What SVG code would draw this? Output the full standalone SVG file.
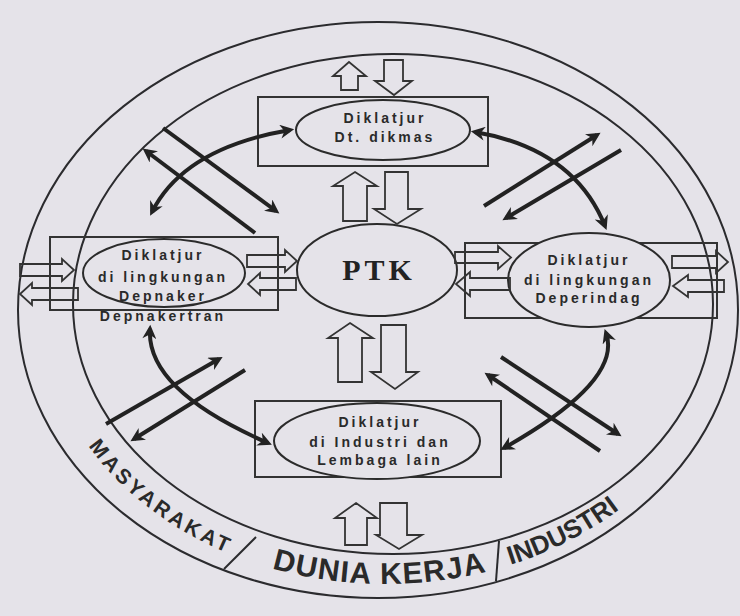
<svg xmlns="http://www.w3.org/2000/svg" width="740" height="616" viewBox="0 0 740 616">
<style>
.bg{fill:#e5e3e9}
.ring{fill:none;stroke:#2b2b2e;stroke-width:2}
.box{fill:none;stroke:#333;stroke-width:2}
.node{fill:#e5e3e9;stroke:#2b2b2b;stroke-width:2}
.hollow{fill:none;stroke:#333;stroke-width:1.8;stroke-linejoin:miter}
.flow{fill:none;stroke:#222;stroke-width:4}
.lbl{font-family:"Liberation Sans",Arial,sans-serif;font-weight:bold;font-size:14px;letter-spacing:3px;fill:#2a2a2a;text-anchor:middle}
.ptk{font-family:"Liberation Serif","Times New Roman",serif;font-weight:bold;font-size:30px;letter-spacing:4px;fill:#222;text-anchor:middle}
.band{font-family:"Liberation Sans",Arial,sans-serif;font-weight:bold;fill:#2a2a2a;text-anchor:middle}
</style>
<defs>
<marker id="ah" viewBox="0 0 10 10" refX="7" refY="5" markerWidth="16" markerHeight="14" markerUnits="userSpaceOnUse" orient="auto-start-reverse">
<path d="M0,0 L10,5 L0,10 L3,5 z" fill="#222"/>
</marker>
<path id="bandPath" d="M42,307 A343,277 0 0 0 728,307"/>
</defs>
<rect class="bg" x="0" y="0" width="740" height="616"/>

<g id="rings">
<ellipse class="ring" cx="378" cy="310" rx="360" ry="288"/>
<ellipse class="ring" cx="393" cy="304" rx="320" ry="250"/>
<line class="ring" x1="224" y1="569" x2="256" y2="537"/>
<line class="ring" x1="496" y1="581" x2="499" y2="541"/>
<text class="band" font-size="21"><textPath href="#bandPath" startOffset="237" textLength="176" lengthAdjust="spacing">MASYARAKAT</textPath></text>
<text class="band" font-size="30"><textPath href="#bandPath" startOffset="482" textLength="217" lengthAdjust="spacing">DUNIA KERJA</textPath></text>
<text class="band" font-size="26"><textPath href="#bandPath" startOffset="677">INDUSTRI</textPath></text>
</g>

<g id="n-dikmas">
<rect class="box" x="258" y="97" width="230" height="69"/>
<ellipse class="node" cx="383" cy="130" rx="87" ry="30"/>
<text class="lbl" x="385" y="123">Diklatjur</text>
<text class="lbl" x="385" y="142">Dt. dikmas</text>
</g>

<g id="n-depnaker">
<rect class="box" x="50" y="237" width="228" height="73"/>
<ellipse class="node" cx="164" cy="273" rx="81" ry="34"/>
<text class="lbl" x="163" y="260">Diklatjur</text>
<text class="lbl" x="163" y="282">di lingkungan</text>
<text class="lbl" x="163" y="301">Depnaker</text>
<text class="lbl" x="163" y="321">Depnakertran</text>
</g>

<g id="n-ptk">
<ellipse class="node" cx="377" cy="270" rx="80" ry="46"/>
<text class="ptk" x="379" y="280">PTK</text>
</g>

<g id="n-deperindag">
<rect class="box" x="465" y="243" width="252" height="75"/>
<ellipse class="node" cx="589" cy="280" rx="81" ry="47"/>
<text class="lbl" x="589" y="265">Diklatjur</text>
<text class="lbl" x="589" y="285">di lingkungan</text>
<text class="lbl" x="589" y="303">Deperindag</text>
</g>

<g id="n-industri">
<rect class="box" x="255" y="401" width="246" height="76"/>
<ellipse class="node" cx="377" cy="441" rx="103" ry="38"/>
<text class="lbl" x="380" y="427">Diklatjur</text>
<text class="lbl" x="380" y="447">di Industri dan</text>
<text class="lbl" x="380" y="465">Lembaga lain</text>
</g>

<g id="connectors">
<polygon class="hollow" points="349,62 366,76 358,76 358,90 341,90 341,76 333,76"/>
<polygon class="hollow" points="384,60 403,60 403,81 412,81 394,95 375,81 384,81"/>
<polygon class="hollow" points="355,172 377,186 367,186 367,221 343,221 343,186 333,186"/>
<polygon class="hollow" points="385,172 408,172 408,209 421,209 397,224 374,209 385,209"/>
<polygon class="hollow" points="350,323 373,338 362,338 362,382 338,382 338,338 328,338"/>
<polygon class="hollow" points="381,325 406,325 406,372 418,372 395,389 371,372 381,372"/>
<polygon class="hollow" points="356,503 377,518 367,518 367,545 345,545 345,518 335,518"/>
<polygon class="hollow" points="380,503 407,503 407,535 422,535 399,549 376,535 380,535"/>
<polygon class="hollow" points="20,264 62,264 62,259 74,270 62,281 62,276 20,276"/>
<polygon class="hollow" points="78,288 32,288 32,283 20,294 32,305 32,300 78,300"/>
<polygon class="hollow" points="247,255 285,255 285,250 297,261 285,272 285,267 247,267"/>
<polygon class="hollow" points="296,278 260,278 260,273 248,284 260,295 260,290 296,290"/>
<polygon class="hollow" points="455,252 498,252 498,246 511,257.5 498,269 498,263 455,263"/>
<polygon class="hollow" points="510,278 470,278 470,272 456,284 470,296 470,290 510,290"/>
<polygon class="hollow" points="672,256 716,256 716,251 728,262 716,273 716,268 672,268"/>
<polygon class="hollow" points="724,280 688,280 688,275 673,286 688,297 688,292 724,292"/>
<path class="flow" d="M152,212 Q184,148 290,130" marker-start="url(#ah)" marker-end="url(#ah)"/>
<path class="flow" d="M475,132 Q574,149 605,226" marker-start="url(#ah)" marker-end="url(#ah)"/>
<path class="flow" d="M150,329 Q146,390 268,443" marker-start="url(#ah)" marker-end="url(#ah)"/>
<path class="flow" d="M606,333 Q623,381 504,448" marker-start="url(#ah)" marker-end="url(#ah)"/>
<line class="flow" x1="163" y1="128" x2="276" y2="211" marker-end="url(#ah)"/>
<line class="flow" x1="255" y1="233" x2="146" y2="151" marker-end="url(#ah)"/>
<line class="flow" x1="484" y1="206" x2="597" y2="135" marker-end="url(#ah)"/>
<line class="flow" x1="621" y1="150" x2="506" y2="218" marker-end="url(#ah)"/>
<line class="flow" x1="106" y1="424" x2="219" y2="359" marker-end="url(#ah)"/>
<line class="flow" x1="245" y1="370" x2="134" y2="439" marker-end="url(#ah)"/>
<line class="flow" x1="501" y1="357" x2="618" y2="434" marker-end="url(#ah)"/>
<line class="flow" x1="600" y1="451" x2="488" y2="375" marker-end="url(#ah)"/>
</g>
</svg>
